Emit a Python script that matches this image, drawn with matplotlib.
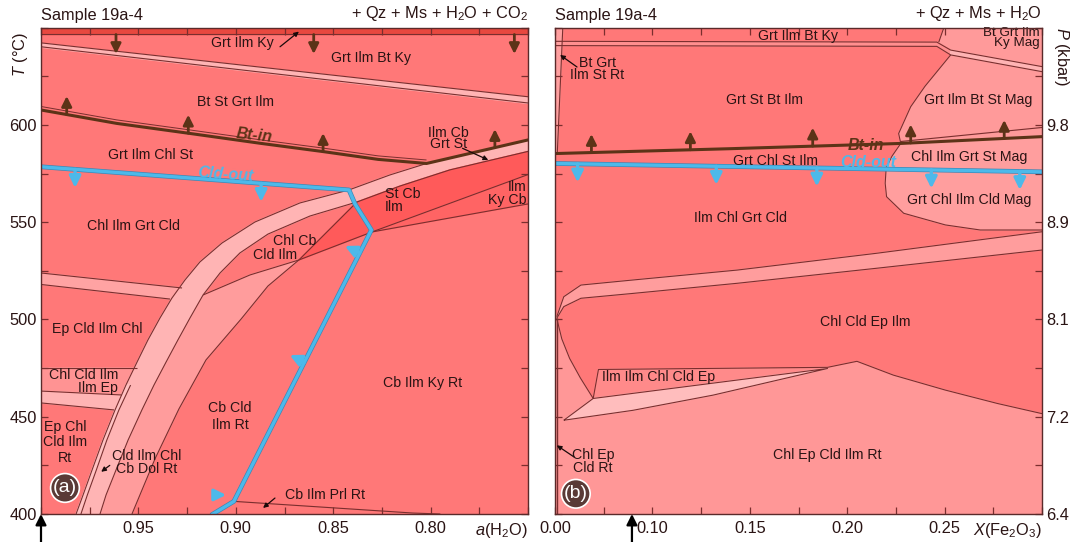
import numpy as np
import matplotlib.pyplot as plt
import matplotlib.patheffects as pe

plt.rcParams['font.family'] = ['Liberation Sans', 'DejaVu Sans']
plt.rcParams['mathtext.fontset'] = 'custom'
plt.rcParams['mathtext.rm'] = 'Liberation Sans'
plt.rcParams['mathtext.it'] = 'Liberation Sans:italic'

# ---------------- panel (a): a(H2O) vs T ----------------
a_lim = [1.00, 0.75]
T_lim = [400, 650]
T_strip = 647.0

a_ky = [1.00, 0.75]
T_ky_hi = [642.2, 614.5]
T_ky_lo = [640.2, 611.3]

a_bt = [1.00, 0.9611, 0.924, 0.8869, 0.8551, 0.8269, 0.8021, 0.75]
T_bt = [607.7, 600.8, 595.7, 590.5, 586.3, 582.3, 580.2, 592.3]

a_b1_up = [0.8021, 0.8209, 0.8419, 0.8671, 0.8902, 0.9071, 0.9184, 0.9261, 0.9328,
           0.9389, 0.9451, 0.9507, 0.9564, 0.9620, 0.9682, 0.9738, 0.9784, 0.9820]
T_b1_up = [580.2, 574.3, 566.6, 559.9, 550.1, 539.3, 529.6, 520.3, 511.0,
           500.8, 489.5, 478.1, 466.3, 453.5, 438.0, 422.6, 409.8, 400.0]
a_b1_lo = [0.75, 0.7901, 0.8157, 0.8378, 0.8619, 0.8835, 0.8979, 0.9081, 0.9168,
           0.9235, 0.9297, 0.9358, 0.9420, 0.9482, 0.9553, 0.9615, 0.9666, 0.9697]
T_b1_lo = [586.4, 576.9, 568.6, 560.4, 553.2, 543.9, 534.2, 523.9, 512.6,
           500.8, 489.5, 478.1, 466.3, 453.5, 438.0, 422.6, 409.8, 400.0]
a_dol = [0.9540, 0.9600, 0.9662, 0.9716, 0.9762, 0.9795]
T_dol = [466.3, 453.5, 438.0, 422.6, 409.8, 400.0]

a_c3 = [0.9533, 0.9415, 0.9292, 0.9153, 0.8973, 0.8835, 0.8676]
T_c3 = [400.0, 428.3, 454.0, 479.2, 500.2, 517.2, 530.6]
a_c4 = [0.9168, 0.8927, 0.8676, 0.8301, 0.75]
T_c4 = [512.6, 522.9, 530.6, 545.0, 559.4]
a_div = [0.8301, 0.75]
T_div = [545.0, 574.5]
a_tongue = [0.8378, 0.8676]
T_tongue = [560.4, 530.6]

a_la_hi = [1.00, 0.9276]; T_la_hi = [523.9, 516.2]
a_la_lo = [1.00, 0.9338]; T_la_lo = [518.0, 510.5]
a_lb_hi = [1.00, 0.9507]; T_lb_hi = [475.1, 475.1]
a_lb_lo = [1.00, 0.9587]; T_lb_lo = [463.2, 461.2]
a_lc_lo = [1.00, 0.9625]; T_lc_lo = [457.1, 453.5]

a_cld = [1.00, 0.8419, 0.8388, 0.8304, 0.9010, 0.9117]
T_cld = [578.5, 566.6, 559.4, 546.0, 406.5, 400.0]
a_prl = [0.9010, 0.8092, 0.7950]
T_prl = [406.5, 400.5, 400.0]

a_bt_arrows = [0.9868, 0.9244, 0.8552, 0.767]
a_top_arrows = [0.9615, 0.860, 0.757]
a_cld_arrows = [0.9825, 0.887]

# (text, x, T, horizontal alignment, line spacing)
labels_a = [
    ('Grt Ilm Ky', 0.8964, 642.1, 'center', 1.0),
    ('Grt Ilm Bt Ky', 0.8306, 634.4, 'center', 1.0),
    ('Bt St Grt Ilm', 0.900, 611.8, 'center', 1.0),
    ('Grt Ilm Chl St', 0.9436, 584.5, 'center', 1.0),
    ('Ilm Cb\nGrt St', 0.7907, 593.0, 'center', 0.78),
    ('Chl Ilm Grt Cld', 0.9523, 548.3, 'center', 1.0),
    ('Chl Cb', 0.870, 540.3, 'center', 1.0),
    ('Cld Ilm', 0.8799, 533.0, 'center', 1.0),
    ('Ep Cld Ilm Chl', 0.9709, 495.1, 'center', 1.0),
    ('Ep Chl\nCld Ilm\nRt', 0.9877, 436.9, 'center', 1.15),
    ('Cld Ilm Chl\nCb Dol Rt', 0.9457, 426.6, 'center', 0.92),
    ('Cb Cld\nIlm Rt', 0.903, 450.0, 'center', 1.25),
    ('Cb Ilm Ky Rt', 0.804, 467.3, 'center', 1.0),
    ('Cb Ilm Prl Rt', 0.8543, 409.8, 'center', 1.0),
    ('St Cb\nIlm', 0.8234, 561.0, 'left', 0.92),
    ('Ilm\nKy Cb', 0.7510, 564.8, 'right', 0.98),
    ('Chl Cld Ilm\nIlm Ep', 0.9603, 468.2, 'right', 0.92),
]
pointers_a = [((0.8773, 640.2), (0.8676, 648.0)), ((0.7836, 588.0), (0.7704, 582.0)),
              ((0.9647, 425.0), (0.9691, 421.7)), ((0.8799, 408.2), (0.8860, 403.1))]

# ---------------- panel (b): X(Fe2O3) vs T / P ----------------
X_lim = [0.05, 0.30]
P_ticks = [6.40, 7.25, 8.10, 8.95, 9.80]

X_top = [0.05, 0.246, 0.2531, 0.30]
T_top_hi = [643.0, 642.6, 638.5, 630.0]
T_top_lo = [640.8, 640.4, 636.0, 627.4]
X_vert = [0.2496, 0.2470]; T_vert = [650.0, 642.6]
X_mag = [0.2531, 0.2400, 0.2326, 0.2264, 0.2275]
T_mag = [636.0, 620.0, 609.4, 595.6, 590.5]

X_bt = [0.05, 0.14, 0.2275, 0.30]
T_bt_b = [585.3, 587.8, 590.5, 594.0]
X_bt2 = [0.2275, 0.30]; T_bt2 = [591.5, 598.7]

X_lobe = [0.2275, 0.2230, 0.2200, 0.2195, 0.2202, 0.2290, 0.2504, 0.2683, 0.30]
T_lobe = [590.5, 584.0, 578.0, 570.0, 563.1, 554.6, 548.6, 546.0, 546.0]

X_cld = [0.05, 0.30]; T_cld_b = [580.2, 575.9]

X_band = [0.30, 0.2148, 0.1435, 0.09, 0.0633, 0.0545, 0.0509]
T_band_hi = [545.1, 534.0, 525.4, 520.3, 517.7, 511.7, 501.4]
T_band_lo = [535.7, 526.3, 518.6, 513.4, 510.9, 506.6, 500.6]

X_low = [0.0509, 0.0535, 0.0575, 0.0630, 0.0696, 0.0723, 0.1899, 0.205, 0.2237, 0.2504, 0.2772, 0.30]
T_low = [500.6, 490.0, 480.0, 470.0, 459.4, 474.3, 475.4, 478.5, 471.4, 463.7, 456.8, 451.6]
X_ilm = [0.0723, 0.1899, 0.0696]; T_ilm = [474.3, 475.4, 459.4]
X_wedge = [0.0545, 0.0696, 0.1899, 0.1311, 0.09]
T_wedge = [448.2, 459.4, 474.8, 461.1, 453.3]
X_sliver = [0.054, 0.0512]; T_sliver = [650.0, 586.0]

X_bt_arrows = [0.0687, 0.1195, 0.1823, 0.2326, 0.2806]
X_cld_arrows = [0.0616, 0.1328, 0.1844, 0.2432, 0.2886]

labels_b = [
    ('Grt Ilm Bt Ky', 0.1747, 645.6, 'center', 1.0),
    ('Bt Grt\nIlm St Rt', 0.0717, 628.8, 'center', 0.85),
    ('Grt St Bt Ilm', 0.1577, 612.8, 'center', 1.0),
    ('Grt Ilm Bt St Mag', 0.2673, 612.8, 'center', 1.0),
    ('Grt Chl St Ilm', 0.163, 581.7, 'center', 1.0),
    ('Chl Ilm Grt St Mag', 0.2628, 583.7, 'center', 1.0),
    ('Ilm Chl Grt Cld', 0.1453, 552.0, 'center', 1.0),
    ('Grt Chl Ilm Cld Mag', 0.2628, 561.4, 'center', 1.0),
    ('Chl Cld Ep Ilm', 0.2094, 498.8, 'center', 1.0),
    ('Ilm Ilm Chl Cld Ep', 0.1034, 470.6, 'center', 1.0),
    ('Chl Ep Cld Ilm Rt', 0.1898, 430.2, 'center', 1.0),
    ('Chl Ep\nCld Rt', 0.0695, 427.0, 'center', 0.85),
]
label_b_corner = ('Bt Grt Ilm\nKy Mag', 0.2988, 644.6)
pointers_b = [((0.0613, 629.8), (0.0526, 636.0)), ((0.0598, 429.3), (0.0509, 435.3))]

# ---------------- styling ----------------
RED = '#FF7878'
LIGHT = '#FFA3A3'
LIGHTER = '#FFB4B4'
MID = '#FF9393'
DARK = '#FF5A5A'
EDGE = '#7A2E2E'
BROWN = '#5C3317'
BLUE = '#4DB9EA'
TXT = '#2A1414'
FS = 10.2
BIG = 11.8

fig = plt.figure(figsize=(10.74, 5.42), dpi=100)
ax1 = fig.add_axes([41 / 1074, 28 / 542, 487 / 1074, 486.3 / 542])
ax2 = fig.add_axes([555 / 1074, 28 / 542, 487 / 1074, 486.3 / 542])


def edge(ax, x, y, lw=0.8, c=EDGE):
    ax.plot(x, y, color=c, lw=lw, solid_capstyle='butt', zorder=3)


def arrow(ax, x0, y0, x1, y1, c, lw=2.0, ms=15, z=6):
    ax.annotate('', xy=(x1, y1), xytext=(x0, y0),
                arrowprops=dict(arrowstyle='-|>', color=c, lw=lw, mutation_scale=ms,
                                shrinkA=0, shrinkB=0), zorder=z)


def pointer(ax, p0, p1):
    ax.annotate('', xy=p1, xytext=p0,
                arrowprops=dict(arrowstyle='-|>', color='#1a0a0a', lw=0.9, mutation_scale=7,
                                shrinkA=0, shrinkB=0), zorder=6)


def put_labels(ax, items):
    for s, x, y, ha, ls in items:
        ax.text(x, y, s, fontsize=FS, color=TXT, ha=ha, va='center', multialignment=ha,
                linespacing=ls, zorder=7)


# ---- panel a fills ----
ax = ax1
ax.set_facecolor(RED)
ax.fill_between([1.0, 0.75], T_strip, 650, color='#E8483F', zorder=1)
ax.fill_between(a_ky, T_ky_lo, T_ky_hi, color=LIGHTER, zorder=1)
ax.fill(a_la_hi + a_la_lo[::-1], T_la_hi + T_la_lo[::-1], color=LIGHT, zorder=1)
ax.fill(a_lb_hi + a_lb_lo[::-1], T_lb_hi + T_lb_lo[::-1], color=MID, zorder=1)
ax.fill(a_lb_lo + a_lc_lo[::-1], T_lb_lo + T_lc_lo[::-1], color=LIGHTER, zorder=1)
ax.fill(a_b1_lo[8:] + a_c3 + a_c4[1::-1], T_b1_lo[8:] + T_c3 + T_c4[1::-1], color='#FF9C9C', zorder=1)
ax.fill([0.75] + a_b1_up + a_b1_lo[::-1], [592.3] + T_b1_up + T_b1_lo[::-1], color=LIGHTER, zorder=1)
ax.fill(a_b1_up[12:] + a_dol[::-1], T_b1_up[12:] + T_dol[::-1], color='#FFC2C2', zorder=1)
ax.fill(a_b1_lo[:4] + a_tongue[1:] + a_div[:1] + [0.75],
        T_b1_lo[:4] + T_tongue[1:] + T_div[:1] + [574.5], color=DARK, zorder=1)
ax.fill(a_div + [0.75], T_div + [559.4], color='#FF6464', zorder=1)

for x, y in [(a_ky, T_ky_hi), (a_ky, T_ky_lo), (a_la_hi, T_la_hi), (a_la_lo, T_la_lo),
             (a_lb_hi, T_lb_hi), (a_lb_lo, T_lb_lo), (a_lc_lo, T_lc_lo),
             (a_b1_up, T_b1_up), (a_b1_lo, T_b1_lo), (a_dol, T_dol), (a_c3, T_c3),
             (a_c4, T_c4), (a_div, T_div), (a_tongue, T_tongue), (a_prl, T_prl)]:
    edge(ax, x, y)
edge(ax, [1.0, 0.75], [T_strip, T_strip])
edge(ax, a_bt[:7], np.array(T_bt[:7]) + 1.8, lw=0.7)
ax.plot(a_bt, T_bt, color=BROWN, lw=2.2, zorder=4)
ax.plot(a_cld, T_cld, color=BLUE, lw=2.4, zorder=5,
        path_effects=[pe.Stroke(linewidth=3.4, foreground='#3d87b5'), pe.Normal()])

for x in a_bt_arrows:
    t = np.interp(x, a_bt[::-1], T_bt[::-1])
    arrow(ax, x, t, x, t + 9.5, BROWN)
for x in a_top_arrows:
    arrow(ax, x, 646.5, x, 636.5, BROWN)
for x in a_cld_arrows:
    t = np.interp(x, a_cld[:2][::-1], T_cld[:2][::-1])
    arrow(ax, x, t, x, t - 9.5, BLUE, lw=2.4, ms=17)
arrow(ax, 0.8364, 534.2, 0.8440, 537.8, BLUE, lw=2.4, ms=17)
arrow(ax, 0.8647, 478.1, 0.8723, 481.7, BLUE, lw=2.4, ms=17)
arrow(ax, 0.9110, 409.8, 0.9050, 409.8, BLUE, lw=2.4, ms=17)

put_labels(ax, labels_a)
for p0, p1 in pointers_a:
    pointer(ax, p0, p1)
ax.text(0.8907, 594.6, 'Bt-in', fontsize=11.5, color=BROWN, fontweight='bold', style='italic',
        rotation=-6, ha='center', va='center', zorder=7)
ax.text(0.9055, 574.6, 'Cld-out', fontsize=11.5, color=BLUE, fontweight='bold', style='italic',
        rotation=-4, ha='center', va='center', zorder=7)
ax.text(0.9877, 413.4, '(a)', fontsize=14, color='white', ha='center', va='center', zorder=8,
        bbox=dict(boxstyle='circle,pad=0.12', fc='#5A3A36', ec='white', lw=1.2))

ax.set_xlim(a_lim)
ax.set_ylim(T_lim)
ax.set_xticks(np.arange(0.75, 1.0001, 0.025))
ax.set_xticklabels(['', '', '0.80', '', '0.85', '', '0.90', '', '0.95', '', ''])
ax.set_yticks(np.arange(400, 651, 25))
ax.set_yticklabels(['400', '', '450', '', '500', '', '550', '', '600', '', ''])
ax.text(1.0, -0.033, '$a$(H$_2$O)', transform=ax.transAxes, ha='right', va='center',
        fontsize=BIG, color=TXT)

# ---- panel b fills ----
ax = ax2
ax.set_facecolor(RED)
ax.fill([0.2496, 0.30, 0.30] + X_bt[2:][::-1] + X_mag[::-1] + [0.2531, 0.2470],
        [650, 650, 594.0] + T_bt_b[2:][::-1] + T_mag[::-1] + [638.5, 642.6], color='#FF9A9A', zorder=1)
ax.fill(X_top + X_top[::-1], T_top_hi + T_top_lo[::-1], color='#FF8F8F', zorder=1)
ax.fill(X_top[2:] + X_top[2:][::-1], T_top_hi[2:] + T_top_lo[2:][::-1], color=LIGHTER, zorder=1)
ax.fill(X_lobe + [0.30] + X_bt[2:][::-1], T_lobe + [594.0] + T_bt_b[2:][::-1], color='#FF9E9E', zorder=1)
ax.fill(X_band + X_band[::-1], T_band_hi + T_band_lo[::-1], color='#FF9D9D', zorder=1)
ax.fill(X_low + [0.30, 0.05, 0.05], T_low + [400, 400, 500.6], color='#FF9797', zorder=1)
ax.fill(X_ilm, T_ilm, color='#FF8A8A', zorder=1)
ax.fill(X_wedge, T_wedge, color='#FFBDBD', zorder=1)
ax.fill(X_sliver + [0.05, 0.05], T_sliver + [586.0, 650], color='#FF9F9F', zorder=1)

for x, y in [(X_top, T_top_hi), (X_top, T_top_lo), (X_vert, T_vert), (X_mag, T_mag),
             (X_bt2, T_bt2), (X_lobe, T_lobe), (X_band, T_band_hi), (X_band, T_band_lo),
             (X_low, T_low), (X_wedge + X_wedge[:1], T_wedge + T_wedge[:1]), (X_sliver, T_sliver)]:
    edge(ax, x, y)
edge(ax, [0.0512, 0.0512], [400, 500.6], lw=1.0)
ax.plot(X_bt, T_bt_b, color=BROWN, lw=2.2, zorder=4)
ax.plot(X_cld, T_cld_b, color=BLUE, lw=2.4, zorder=5,
        path_effects=[pe.Stroke(linewidth=3.4, foreground='#3d87b5'), pe.Normal()])

for x in X_bt_arrows:
    t = np.interp(x, X_bt, T_bt_b)
    arrow(ax, x, t, x, t + 9.5, BROWN)
for x in X_cld_arrows:
    t = np.interp(x, X_cld, T_cld_b)
    arrow(ax, x, t, x, t - 9.5, BLUE, lw=2.4, ms=17)

put_labels(ax, labels_b)
s, x, y = label_b_corner
ax.text(x, y, s, fontsize=9.6, color=TXT, ha='right', va='center', multialignment='right',
        linespacing=0.8, zorder=7)
for p0, p1 in pointers_b:
    pointer(ax, p0, p1)
ax.text(0.2094, 589.5, 'Bt-in', fontsize=11.5, color=BROWN, fontweight='bold', style='italic',
        ha='center', va='center', zorder=7)
ax.text(0.2110, 580.8, 'Cld-out', fontsize=11.5, color=BLUE, fontweight='bold', style='italic',
        ha='center', va='center', zorder=7)
ax.text(0.0607, 410.4, '(b)', fontsize=14, color='white', ha='center', va='center', zorder=8,
        bbox=dict(boxstyle='circle,pad=0.12', fc='#5A3A36', ec='white', lw=1.2))

ax.set_xlim(X_lim)
ax.set_ylim(T_lim)
ax.set_xticks(np.arange(0.05, 0.3001, 0.025))
ax.set_xticklabels(['0.00', '', '0.10', '', '0.15', '', '0.20', '', '0.25', '', ''])
ax.set_yticks(np.arange(400, 651, 25))
p_txt = [('%.2f' % p)[:3] for p in P_ticks]
ax.set_yticklabels([p_txt[0], '', p_txt[1], '', p_txt[2], '', p_txt[3], '', p_txt[4], '', ''])
ax.tick_params(labelleft=False, labelright=True)
ax.text(1.0, -0.033, '$X$(Fe$_2$O$_3$)', transform=ax.transAxes, ha='right', va='center',
        fontsize=BIG, color=TXT)

for ax, extra in [(ax1, '+ Qz + Ms + H$_2$O + CO$_2$'), (ax2, '+ Qz + Ms + H$_2$O')]:
    ax.tick_params(direction='in', length=5, width=0.9, color=EDGE, top=True, right=True,
                   labelsize=BIG, labelcolor=TXT)
    ax.tick_params(axis='x', pad=5)
    ax.tick_params(axis='y', pad=3)
    for sp in ax.spines.values():
        sp.set_color('#5a2a2a')
        sp.set_linewidth(1.0)
        sp.set_zorder(9)
    ax.text(0.0, 1.01, 'Sample 19a-4', transform=ax.transAxes, fontsize=BIG, color=TXT,
            ha='left', va='bottom')
    ax.text(1.0, 1.01, extra, transform=ax.transAxes, fontsize=BIG, color=TXT,
            ha='right', va='bottom')

# big arrows under the axes
ax1.annotate('', xy=(1.0, 0.0), xycoords=('data', 'axes fraction'),
             xytext=(1.0, -0.06), textcoords=('data', 'axes fraction'),
             arrowprops=dict(arrowstyle='-|>', color='black', lw=1.6, mutation_scale=16,
                             shrinkA=0, shrinkB=0), annotation_clip=False)
ax2.annotate('', xy=(0.0895, 0.0), xycoords=('data', 'axes fraction'),
             xytext=(0.0895, -0.06), textcoords=('data', 'axes fraction'),
             arrowprops=dict(arrowstyle='-|>', color='black', lw=1.6, mutation_scale=16,
                             shrinkA=0, shrinkB=0), annotation_clip=False)

fig.text(20 / 1074, 1 - 55 / 542, '$T$ (°C)', rotation=90, ha='center', va='center',
         fontsize=BIG, color=TXT)
fig.text(1062 / 1074, 1 - 57 / 542, '$P$ (kbar)', rotation=-90, ha='center', va='center',
         fontsize=BIG, color=TXT)

fig.savefig('out.png', dpi=100)
